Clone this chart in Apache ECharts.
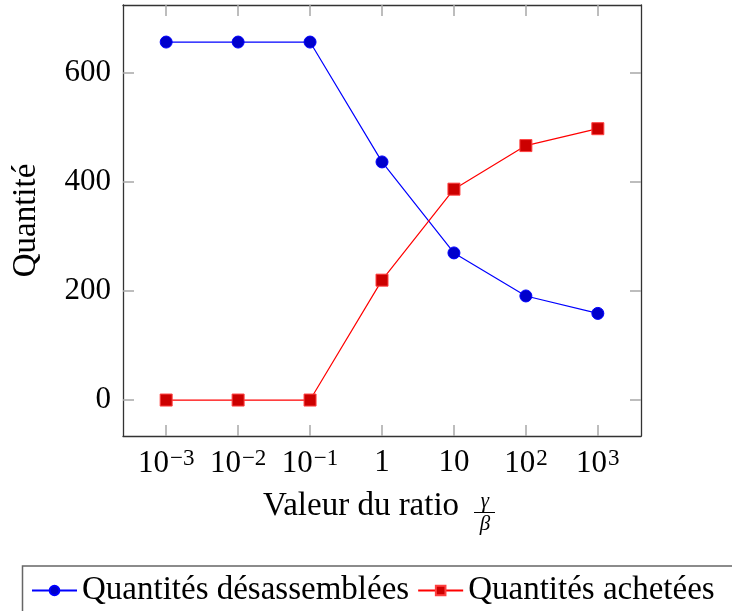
<!DOCTYPE html>
<html>
<head>
<meta charset="utf-8">
<script src="https://cdn.jsdelivr.net/npm/echarts@6/dist/echarts.min.js"></script>
<style>
html,body{margin:0;padding:0;background:#fff;}
#c{width:732px;height:611px;}
</style>
</head>
<body>
<div id="c"></div>
<script>
// ratio gamma/beta expressed as powers of ten
const exponents = [-3, -2, -1, 0, 1, 2, 3];
const disassembled = [657, 657, 657, 437, 270, 191, 159];
const purchased = [0, 0, 0, 220, 387, 467, 498];
const yTicks = [0, 200, 400, 600];
const seriesNames = ['Quantités désassemblées', 'Quantités achetées'];
const xTitle = 'Valeur du ratio';
const yTitle = 'Quantité';

const FONT = 'Liberation Serif';
const chart = echarts.init(document.getElementById('c'));

function xLabel(v) {
  const e = Math.round(v);
  if (e === 0) return '{b|1}';
  if (e === 1) return '{b|10}';
  return '{b|10}{s|' + (e < 0 ? '\u2212' + (-e) : e) + '}';
}

const tickStyle = {show: true, inside: true, length: 11, lineStyle: {color: '#a8a8a8', width: 1.5}};
const lineStyleAxis = {show: true, onZero: false, lineStyle: {color: '#333', width: 1.3}};

chart.setOption({
  animation: false,
  backgroundColor: '#fff',
  textStyle: {fontFamily: FONT},
  grid: {left: 123, right: 91, top: 5, bottom: 175, containLabel: false},
  xAxis: [{
    type: 'value', min: -3.6, max: 3.6, position: 'bottom',
    axisLine: lineStyleAxis,
    axisTick: Object.assign({customValues: exponents}, tickStyle),
    splitLine: {show: false},
    axisLabel: {
      customValues: exponents, margin: 11, color: '#000',
      formatter: xLabel,
      rich: {
        b: {fontSize: 31, fontFamily: FONT, color: '#000', verticalAlign: 'bottom'},
        s: {fontSize: 23, fontFamily: FONT, color: '#000', verticalAlign: 'bottom', padding: [0, 0, 9, 1]}
      }
    }
  }, {
    type: 'value', min: -3.6, max: 3.6, position: 'top',
    axisLine: lineStyleAxis,
    axisTick: Object.assign({customValues: exponents}, tickStyle),
    axisLabel: {show: false}, splitLine: {show: false}
  }],
  yAxis: [{
    type: 'value', min: -66, max: 725, position: 'left',
    name: yTitle, nameLocation: 'middle', nameGap: 80, nameRotate: 90,
    nameTextStyle: {fontSize: 33, fontFamily: FONT, color: '#000'},
    axisLine: lineStyleAxis,
    axisTick: Object.assign({customValues: yTicks}, tickStyle),
    splitLine: {show: false},
    axisLabel: {customValues: yTicks, fontSize: 31, fontFamily: FONT, color: '#000', margin: 12}
  }, {
    type: 'value', min: -66, max: 725, position: 'right',
    axisLine: lineStyleAxis,
    axisTick: Object.assign({customValues: yTicks}, tickStyle),
    axisLabel: {show: false}, splitLine: {show: false}
  }],
  legend: {
    left: 26, top: 569, itemWidth: 45, itemHeight: 12, itemGap: 8,
    textStyle: {fontSize: 33, fontFamily: FONT, color: '#000'},
    data: seriesNames
  },
  graphic: [
    {type: 'rect', shape: {x: 22.5, y: 566, width: 740, height: 80}, style: {fill: 'none', stroke: '#666', lineWidth: 1.5}, silent: true},
    {type: 'text', x: 263, y: 506, style: {text: xTitle, font: '33px "' + FONT + '"', fill: '#000', align: 'left', verticalAlign: 'middle'}},
    {type: 'text', x: 485, y: 501, style: {text: 'γ', font: 'italic 21px "' + FONT + '"', fill: '#000', align: 'center', verticalAlign: 'middle'}},
    {type: 'line', shape: {x1: 474, y1: 512.5, x2: 495, y2: 512.5}, style: {stroke: '#000', lineWidth: 1}},
    {type: 'text', x: 485, y: 524, style: {text: 'β', font: 'italic 21px "' + FONT + '"', fill: '#000', align: 'center', verticalAlign: 'middle'}}
  ],
  series: [{
    name: seriesNames[0], type: 'line',
    data: exponents.map((e, i) => [e, disassembled[i]]),
    symbol: 'circle', symbolSize: 12,
    lineStyle: {color: '#0000ff', width: 1.2},
    itemStyle: {color: '#0000cc', borderColor: '#0000ff', borderWidth: 1}
  }, {
    name: seriesNames[1], type: 'line',
    data: exponents.map((e, i) => [e, purchased[i]]),
    symbol: 'rect', symbolSize: 12,
    lineStyle: {color: '#ff0000', width: 1.2},
    itemStyle: {color: '#cc0000', borderColor: '#ff4040', borderWidth: 1}
  }]
});
</script>
</body>
</html>
